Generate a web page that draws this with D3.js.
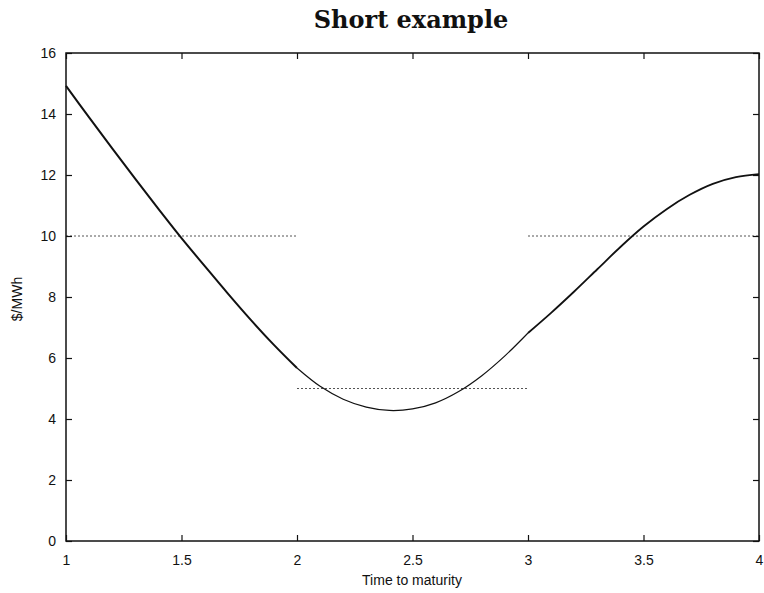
<!DOCTYPE html>
<html><head><meta charset="utf-8">
<script src="https://cdn.jsdelivr.net/npm/d3@7"></script>
<style>body{margin:0;background:#fff}</style>
</head><body>
<script>
// ---- data ----
const timeA = [1.0,1.1,1.2,1.3,1.4,1.5,1.6,1.7,1.8,1.9,2.0];
const priceA = [14.92,13.89,12.87,11.87,10.89,9.93,9.02,8.12,7.25,6.43,5.67];
const timeB = [2.0,2.1,2.2,2.3,2.4,2.5,2.6,2.7,2.8,2.9,3.0];
const priceB = [5.67,5.07,4.65,4.39,4.28,4.33,4.53,4.90,5.42,6.07,6.82];
const timeC = [3.0,3.1,3.2,3.3,3.4,3.5,3.6,3.7,3.8,3.9,4.0];
const priceC = [6.82,7.48,8.18,8.91,9.64,10.31,10.88,11.35,11.71,11.93,12.03];
const flatStart = [1,2,3];
const flatEnd = [2,3,4];
const flatLevel = [10,5,10];
const xTicks = [1,1.5,2,2.5,3,3.5,4];
const yTicks = [0,2,4,6,8,10,12,14,16];
const titleText = "Short example";
const xLabel = "Time to maturity";
const yLabel = "$/MWh";

const W = 764, H = 593;
const L = 66, R = 759, T = 53, B = 541;
const svg = d3.select("body").append("svg").attr("width", W).attr("height", H);
const x = d3.scaleLinear().domain([1,4]).range([L,R]);
const y = d3.scaleLinear().domain([0,16]).range([B,T]);

// flat dotted lines
svg.selectAll("line.flat").data(flatLevel).enter().append("line")
  .attr("x1",(d,i)=>x(flatStart[i])).attr("x2",(d,i)=>x(flatEnd[i]))
  .attr("y1",d=>y(d)).attr("y2",d=>y(d))
  .attr("stroke","#555").attr("stroke-width",1).attr("stroke-dasharray","2,2");

// curve segments
const line = d3.line().x(d=>x(d[0])).y(d=>y(d[1])).curve(d3.curveCatmullRom.alpha(0.5));
const segs = [[timeA,priceA,2],[timeB,priceB,1.2],[timeC,priceC,1.8]];
segs.forEach(s=>{
  svg.append("path").datum(s[0].map((t,i)=>[t,s[1][i]]))
    .attr("d",line).attr("fill","none").attr("stroke","#111").attr("stroke-width",s[2]);
});

// frame
svg.append("rect").attr("x",L).attr("y",T).attr("width",R-L).attr("height",B-T)
  .attr("fill","none").attr("stroke","#111").attr("stroke-width",1.5);

// axes with inward ticks
const fmt = d=>String(d);
const ax = svg.append("g").attr("transform",`translate(0,${B})`)
  .call(d3.axisBottom(x).tickValues(xTicks).tickFormat(fmt).tickSizeInner(-6).tickSizeOuter(0).tickPadding(14));
const axT = svg.append("g").attr("transform",`translate(0,${T})`)
  .call(d3.axisTop(x).tickValues(xTicks).tickFormat("").tickSizeInner(-6).tickSizeOuter(0));
const ay = svg.append("g").attr("transform",`translate(${L},0)`)
  .call(d3.axisLeft(y).tickValues(yTicks).tickFormat(fmt).tickSizeInner(-6).tickSizeOuter(0).tickPadding(10));
const ayR = svg.append("g").attr("transform",`translate(${R},0)`)
  .call(d3.axisRight(y).tickValues(yTicks).tickFormat("").tickSizeInner(-6).tickSizeOuter(0));
[ax,axT,ay,ayR].forEach(g=>{
  g.select(".domain").remove();
  g.selectAll("line").attr("stroke","#111").attr("stroke-width",1.2);
  g.selectAll("text").attr("font-family","Liberation Sans, Arial, sans-serif").attr("font-size",14).attr("fill","#111");
});

// title
svg.append("text").attr("x",411).attr("y",28).attr("text-anchor","middle")
  .attr("font-family","DejaVu Serif, serif").attr("font-weight","bold").attr("font-size",24)
  .attr("fill","#111").text(titleText);
// axis labels
svg.append("text").attr("x",412).attr("y",585).attr("text-anchor","middle")
  .attr("font-family","Liberation Sans, Arial, sans-serif").attr("font-size",14).attr("fill","#111").text(xLabel);
svg.append("text").attr("transform","translate(22,299) rotate(-90)").attr("text-anchor","middle")
  .attr("font-family","Liberation Sans, Arial, sans-serif").attr("font-size",14).attr("fill","#111").text(yLabel);
</script>
</body></html>
